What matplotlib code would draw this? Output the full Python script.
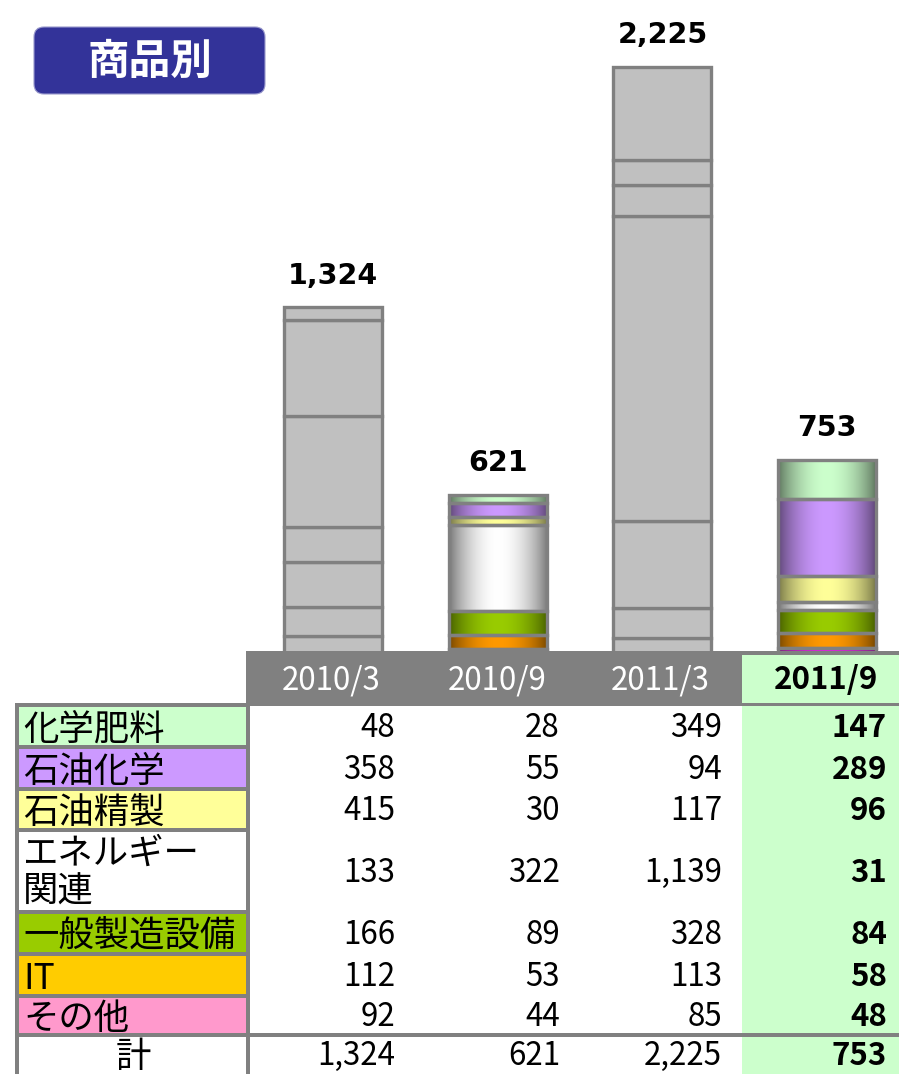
import matplotlib
matplotlib.use('Agg')
import matplotlib.pyplot as plt
import numpy as np
from matplotlib.patches import Rectangle, FancyBboxPatch
from matplotlib.colors import to_rgb

plt.rcParams['font.family'] = ['Noto Sans CJK JP', 'DejaVu Sans']

# ---------------- data ----------------
title = '商品別'
periods = ['2010/3', '2010/9', '2011/3', '2011/9']
categories = ['化学肥料', '石油化学', '石油精製', 'エネルギー\n関連', '一般製造設備', 'IT', 'その他']
fertilizer = [48, 28, 349, 147]
petrochem = [358, 55, 94, 289]
refining = [415, 30, 117, 96]
energy = [133, 322, 1139, 31]
general = [166, 89, 328, 84]
it_sector = [112, 53, 113, 58]
other = [92, 44, 85, 48]
totals = [1324, 621, 2225, 753]
total_label = '計'

series = [fertilizer, petrochem, refining, energy, general, it_sector, other]
label_colors = ['#CCFFCC', '#CC99FF', '#FFFF99', '#FFFFFF', '#99CC00', '#FFCC00', '#FF99CC']
bar_colors = ['#CCFFCC', '#CC99FF', '#FFFF99', '#FFFFFF', '#99CC00', '#FF9900', '#FF00FF']
colored_periods = [1, 3]

# ---------------- figure ----------------
W, H = 899, 1074
fig = plt.figure(figsize=(W / 100, H / 100), dpi=100)
fig.patch.set_facecolor('white')

base_px = 661          # pixel row of the zero line
px_per_unit = 0.267
ax = fig.add_axes([0, (H - base_px) / H, 1, base_px / H], zorder=1)
ax.axis('off')

x0_px, step_px = 333, 164.7
xs = np.arange(len(periods))
bar_w = 98 / step_px
grey_edge = '#808080'

def shade_profile(n=96):
    t = np.linspace(0, 1, n)
    return 0.46 + 0.54 * np.clip(np.sin(np.pi * t), 0, 1) ** 0.8

prof = shade_profile()

bottoms = np.zeros(len(periods))
# stack from bottom (その他) to top (化学肥料)
for k in range(len(series) - 1, -1, -1):
    vals = np.array(series[k], dtype=float)
    faces = ['none' if i in colored_periods else '#C0C0C0' for i in range(len(periods))]
    bars = ax.bar(xs, vals, bottom=bottoms, width=bar_w, color=faces,
                  edgecolor=grey_edge, linewidth=2.4, zorder=3)
    for i in colored_periods:
        patch = bars[i]
        c = np.array(to_rgb(bar_colors[k]))
        grad = (prof[:, None] * c[None, :])[None, :, :]
        x_left = patch.get_x()
        im = ax.imshow(grad, extent=[x_left, x_left + patch.get_width(),
                                     patch.get_y(), patch.get_y() + patch.get_height()],
                       aspect='auto', interpolation='bilinear', zorder=2)
        im.set_clip_path(patch)
    bottoms += vals

for i, t in enumerate(totals):
    ax.annotate(f'{t:,}', (xs[i], t), xytext=(0, 23), textcoords='offset points',
                ha='center', va='center', fontfamily='DejaVu Sans',
                fontweight='bold', fontsize=20.5, color='black', zorder=6)

ax.set_xlim(-x0_px / step_px, (W - x0_px) / step_px)
ax.set_ylim(0, base_px / px_per_unit)

# ---------------- table & title overlay ----------------
tax = fig.add_axes([0, 0, 1, 1], zorder=5)
tax.set_xlim(0, W)
tax.set_ylim(H, 0)
tax.axis('off')
tax.patch.set_alpha(0)

def rect(x1, y1, x2, y2, color, z=1):
    tax.add_patch(Rectangle((x1, y1), x2 - x1, y2 - y1, facecolor=color,
                            edgecolor='none', zorder=z))

# header row
rect(246, 651, 742, 706, grey_edge)
rect(742, 651, W, 706, grey_edge)
rect(742, 655, W, 703, '#CCFFCC', 2)
# green column body
rect(742, 706, W, H, '#CCFFCC')
# label column background (grey = borders)
rect(15, 703, 250, H, grey_edge)
rows = [(707, 745), (749, 787), (791, 828), (832, 910), (914, 952), (956, 994), (998, 1033)]
for (y1, y2), col in zip(rows, label_colors):
    rect(19, y1, 246, y2, col, 2)
rect(19, 1037, 246, H, 'white', 2)
# line above total row
rect(15, 1033, W, 1037, grey_edge, 3)

col_centers = [331, 497, 660, 826]
col_rights = [395, 560, 722, 887]
num_fs = 22.5
lab_fs = 25.5

for i, p in enumerate(periods):
    bold = i == len(periods) - 1
    tax.text(col_centers[i], 680, p, ha='center', va='center', fontsize=num_fs,
             color='black' if bold else 'white',
             fontweight='bold' if bold else 'normal', zorder=4)

for r, (cat, vals) in enumerate(zip(categories, series)):
    y1, y2 = rows[r]
    yc = (y1 + y2) / 2
    lines = cat.split('\n')
    if len(lines) == 1:
        tax.text(23, yc + 4, cat, ha='left', va='center', fontsize=lab_fs, zorder=4)
    else:
        tax.text(23, yc - 17, lines[0], ha='left', va='center', fontsize=lab_fs, zorder=4)
        tax.text(23, yc + 21, lines[1], ha='left', va='center', fontsize=lab_fs, zorder=4)
    for i, v in enumerate(vals):
        bold = i == len(periods) - 1
        tax.text(col_rights[i], yc + 2, f'{v:,}', ha='right', va='center', fontsize=num_fs,
                 fontweight='bold' if bold else 'normal', zorder=4)

tax.text(133, 1057, total_label, ha='center', va='center', fontsize=lab_fs, zorder=4)
for i, t in enumerate(totals):
    bold = i == len(periods) - 1
    tax.text(col_rights[i], 1056, f'{t:,}', ha='right', va='center', fontsize=num_fs,
             fontweight='bold' if bold else 'normal', zorder=4)

# title box
tax.add_patch(FancyBboxPatch((34, 27), 231, 67, boxstyle='round,pad=0,rounding_size=10',
                             facecolor='#333399', edgecolor='#9999CC', linewidth=0.8, zorder=4))
tax.text(150, 62, title, ha='center', va='center', fontsize=30, fontweight='bold',
         color='white', zorder=5)

fig.savefig('out.png', dpi=100)
